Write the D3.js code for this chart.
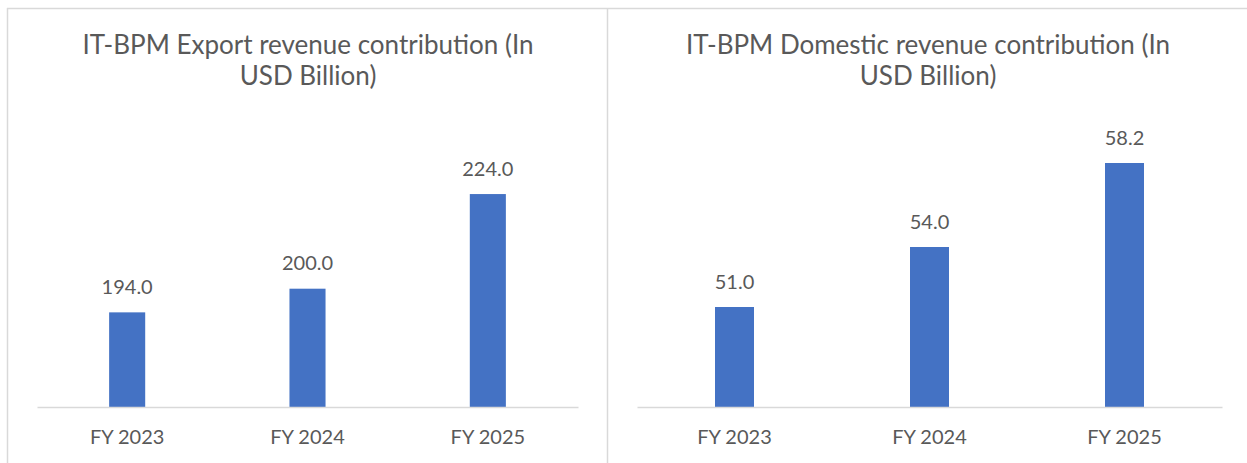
<!DOCTYPE html>
<html>
<head>
<meta charset="utf-8">
<script src="https://cdn.jsdelivr.net/npm/d3@7"></script>
<style>
  body { margin: 0; background: #fff; }
  text { font-family: Lato, "Open Sans", sans-serif; fill: #595959; }
</style>
</head>
<body>
<svg id="chart" width="1247" height="463"></svg>
<script>
// data
var categories = ["FY 2023", "FY 2024", "FY 2025"];
var exportValues = [194.0, 200.0, 224.0];
var domesticValues = [51.0, 54.0, 58.2];
var exportTitle = ["IT-BPM Export revenue contribution (In", "USD Billion)"];
var domesticTitle = ["IT-BPM Domestic revenue contribution (In", "USD Billion)"];
var exportDomain = [170, 230];
var domesticDomain = [46, 60];

var svg = d3.select("#chart");
var borderColor = "#d9d9d9";

// panel frames
svg.append("line").attr("x1", 7).attr("x2", 1247).attr("y1", 8.5).attr("y2", 8.5)
    .attr("stroke", borderColor).attr("stroke-width", 1.5);
svg.append("line").attr("x1", 7.5).attr("x2", 7.5).attr("y1", 8).attr("y2", 463)
    .attr("stroke", borderColor).attr("stroke-width", 1.5);
svg.append("line").attr("x1", 607.5).attr("x2", 607.5).attr("y1", 8).attr("y2", 463)
    .attr("stroke", borderColor).attr("stroke-width", 1.5);

function drawPanel(opts) {
    var g = svg.append("g");

    var x = d3.scaleBand()
        .domain(categories)
        .range([opts.left, opts.right])
        .paddingInner(0.8)
        .paddingOuter(0.4);

    var y = d3.scaleLinear()
        .domain(opts.domain)
        .range([407, opts.top]);

    // title
    g.append("text")
        .attr("x", opts.titleX)
        .attr("y", 54)
        .attr("text-anchor", "middle")
        .style("font-size", "26px")
        .selectAll("tspan")
        .data(opts.title)
        .join("tspan")
        .attr("x", opts.titleX)
        .attr("dy", function (d, i) { return i === 0 ? 0 : 31; })
        .text(function (d) { return d; });

    // bars
    g.selectAll("rect")
        .data(opts.values)
        .join("rect")
        .attr("x", function (d, i) { return x(categories[i]); })
        .attr("y", function (d) { return y(d); })
        .attr("width", x.bandwidth())
        .attr("height", function (d) { return y(opts.domain[0]) - y(d); })
        .style("fill", "#4472c4");

    // value labels
    g.selectAll(".val")
        .data(opts.values)
        .join("text")
        .attr("class", "val")
        .attr("x", function (d, i) { return x(categories[i]) + x.bandwidth() / 2; })
        .attr("y", function (d) { return y(d) - 18.5; })
        .attr("text-anchor", "middle")
        .style("font-size", "20px")
        .text(function (d) { return d3.format(".1f")(d); });

    // x axis
    var axis = g.append("g")
        .attr("transform", `translate(0, ${y(opts.domain[0])})`)
        .call(d3.axisBottom(x).tickSize(0).tickPadding(0));
    axis.select(".domain")
        .attr("stroke", borderColor)
        .attr("stroke-width", 1.5);
    axis.selectAll(".tick text")
        .attr("dy", null)
        .attr("y", 37)
        .style("font-size", "20px")
        .style("font-family", "Lato, 'Open Sans', sans-serif")
        .attr("fill", "#595959");
}

drawPanel({ left: 37, right: 578, top: 170.4, domain: exportDomain, values: exportValues, title: exportTitle, titleX: 308 });
drawPanel({ left: 637, right: 1222, top: 127, domain: domesticDomain, values: domesticValues, title: domesticTitle, titleX: 928 });
</script>
</body>
</html>
